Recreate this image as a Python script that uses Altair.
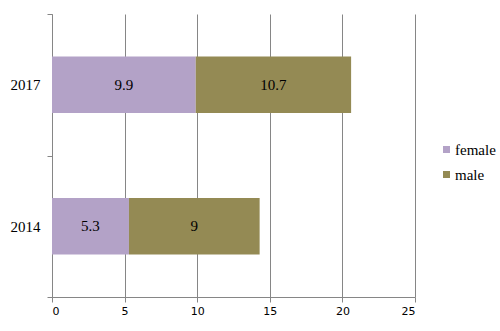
import altair as alt
import pandas as pd

years = ["2017", "2014"]
female = [9.9, 5.3]
male = [10.7, 9.0]
series = ["female", "male"]
colors = ["#B3A2C7", "#948A54"]

rows = []
for i, y in enumerate(years):
    rows.append({"year": y, "sex": "female", "value": female[i], "order": 0})
    rows.append({"year": y, "sex": "male", "value": male[i], "order": 1})
df = pd.DataFrame(rows)

grid = "#868686"

base = alt.Chart(df).transform_stack(
    stack="value", groupby=["year"], as_=["x0", "x1"],
    sort=[alt.SortField("order", order="ascending")]
).transform_calculate(mid="(datum.x0 + datum.x1) / 2")

yenc = alt.Y(
    "year:N", sort=years, title=None,
    scale=alt.Scale(paddingInner=0, paddingOuter=0),
    axis=alt.Axis(tickBand="extent", domainColor=grid, tickColor=grid, tickSize=5,
                  labelFont="Liberation Serif", labelFontSize=15, labelColor="black",
                  labelPadding=7, grid=False),
)

bars = base.mark_bar(height=alt.RelativeBandSize(0.4)).encode(
    y=yenc,
    x=alt.X("x0:Q", title=None,
            scale=alt.Scale(domain=[0, 25], nice=False),
            axis=alt.Axis(values=[0, 5, 10, 15, 20, 25], grid=True, gridColor=grid,
                          domainColor=grid, tickColor=grid, tickSize=5,
                          labelFont="DejaVu Sans", labelFontSize=11, labelColor="black",
                          labelPadding=3)),
    x2="x1:Q",
    color=alt.Color("sex:N", title=None,
                    scale=alt.Scale(domain=series, range=colors),
                    legend=alt.Legend(orient="none", legendX=387, legendY=128,
                                      symbolType="square", symbolSize=49,
                                      symbolStrokeWidth=0, rowPadding=9, labelOffset=1,
                                      labelFont="Liberation Serif")),
    order=alt.Order("order:Q"),
)

text = base.mark_text(font="Liberation Serif", fontSize=15, color="black").encode(
    y=alt.Y("year:N", sort=years),
    x=alt.X("mid:Q"),
    text=alt.Text("value:Q"),
)

chart = (bars + text).properties(
    width=363, height=283,
    background="white",
    autosize=alt.AutoSizeParams(type="none"),
    padding={"left": 52, "top": 14, "right": 85, "bottom": 34},
).configure_view(stroke=None).configure_legend(
    labelFont="Liberation Serif", labelFontSize=15, labelColor="black"
)

chart.save("out.html", embed_options={"renderer": "svg", "actions": False})
